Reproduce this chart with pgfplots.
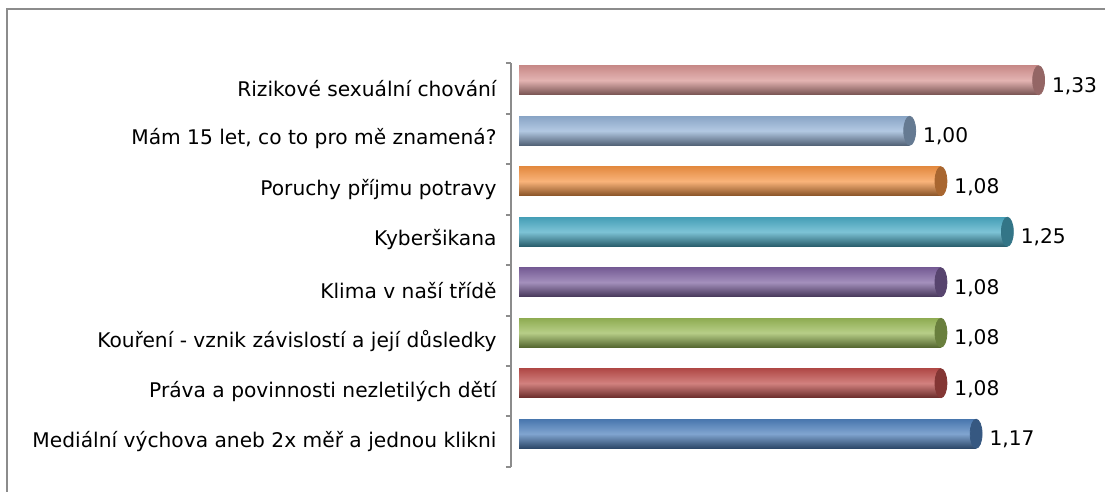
\documentclass[border=0pt]{standalone}
\usepackage{fontspec}
\setmainfont{DejaVu Sans}
\usepackage{pgfplots}
\pgfplotsset{compat=1.18}

\definecolor{cPink}{HTML}{D99694}
\definecolor{cLblue}{HTML}{95B3D7}
\definecolor{cOrange}{HTML}{F79646}
\definecolor{cTeal}{HTML}{4BACC6}
\definecolor{cPurple}{HTML}{8064A2}
\definecolor{cGreen}{HTML}{9BBB59}
\definecolor{cRed}{HTML}{C0504D}
\definecolor{cBlue}{HTML}{4F81BD}
\definecolor{frame}{HTML}{8C8C8C}

% one cylinder: colour, category position, value
\newcommand\cyl[3]{%
  \addplot[xbar, bar width=14.5pt, bar shift=4pt, draw=none,
    top color=#1!92!black, bottom color=#1!55!black, middle color=#1!72!white]
    coordinates {(#3,#2)};
  \addplot[only marks, color=#1!68!black, mark=*, mark size=7.25pt,
    mark options={xscale=0.41, yshift=4pt, fill=#1!68!black, draw=#1!68!black},
    point meta=x,
    nodes near coords={\pgfmathprintnumber[fixed,fixed zerofill,precision=2,use comma,assume math mode=true]{\pgfplotspointmeta}}]
    coordinates {(#3,#2)};
}

\begin{document}
\begin{tikzpicture}[x=1pt,y=1pt]
\useasboundingbox (0,0) rectangle (552.5,246);
\draw[frame, line width=1pt] (3.25,0) -- (3.25,241.25) -- (552.5,241.25);
\begin{axis}[
  at={(255.5pt,12.5pt)}, anchor=south west,
  scale only axis, width=277.5pt, height=202pt,
  xmin=-0.0205, xmax=1.4, ymin=-0.5, ymax=7.5,
  axis x line=none, axis y line*=left,
  y axis line style={frame, line width=1pt},
  xtick=\empty,
  ytick={0,...,7},
  yticklabels={Mediální výchova aneb 2x měř a jednou klikni,
    Práva a povinnosti nezletilých dětí,
    Kouření - vznik závislostí a její důsledky,
    Klima v naší třídě, Kyberšikana, Poruchy příjmu potravy,
    {Mám 15 let, co to pro mě znamená?}, Rizikové sexuální chování},
  minor ytick={-0.5,0.5,...,7.5},
  major tick length=0pt, minor tick length=2.5pt, tick align=outside,
  minor tick style={frame, line width=1pt},
  yticklabel style={font=\fontsize{10.1pt}{12pt}\selectfont, xshift=-3.7pt},
  every node near coord/.append style={font=\fontsize{10.1pt}{12pt}\selectfont,
    anchor=west, xshift=3.2pt, yshift=-2.8pt, text=black},
  clip=false,
]
\cyl{cBlue}{0}{1.17}
\cyl{cRed}{1}{1.08}
\cyl{cGreen}{2}{1.08}
\cyl{cPurple}{3}{1.08}
\cyl{cTeal}{4}{1.25}
\cyl{cOrange}{5}{1.08}
\cyl{cLblue}{6}{1.00}
\cyl{cPink}{7}{1.33}
\end{axis}
\end{tikzpicture}
\end{document}
